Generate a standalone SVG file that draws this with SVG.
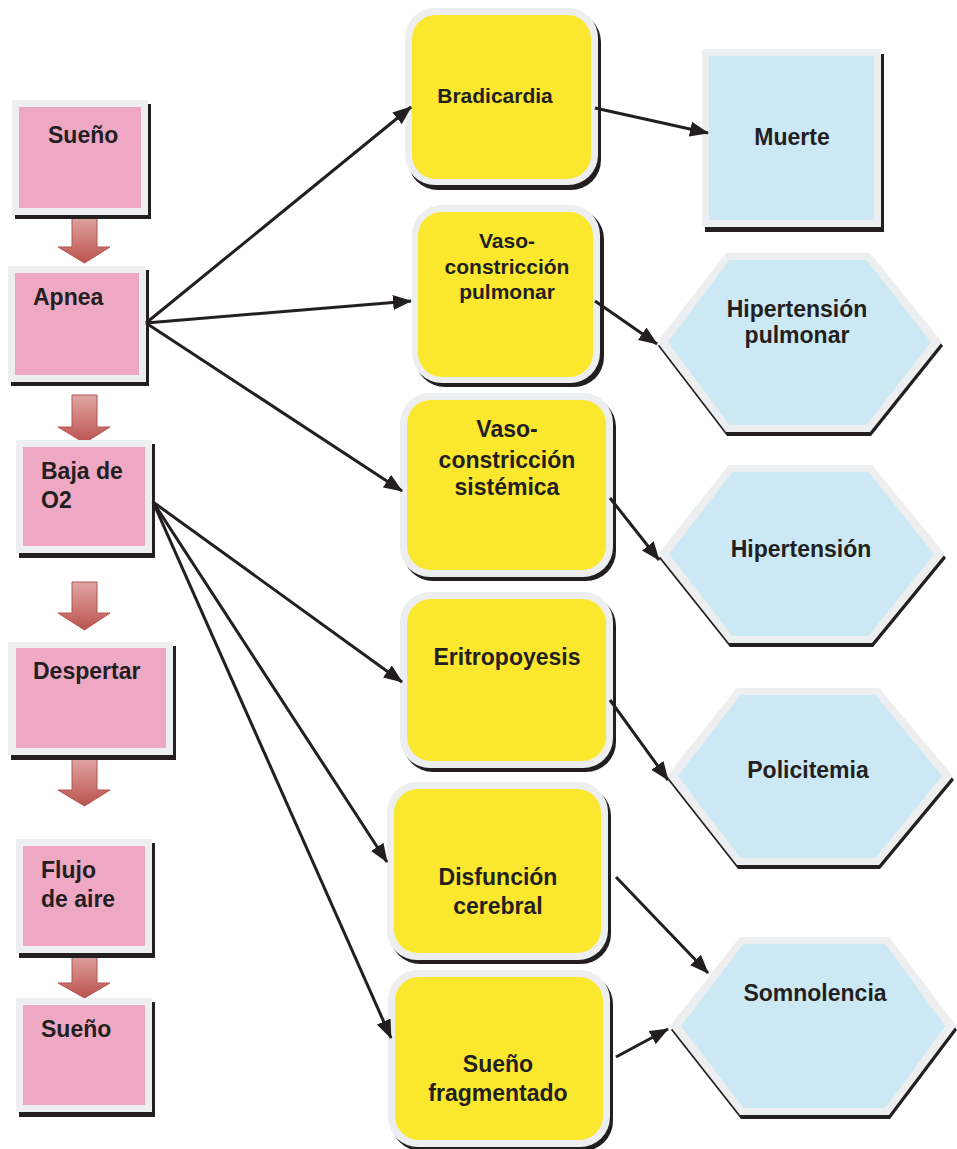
<svg xmlns="http://www.w3.org/2000/svg" width="957" height="1149" viewBox="0 0 957 1149">
<defs>
<style>
.sh{fill:#231f20}
.bd{fill:#edeef0}
.pk{fill:#efa8c4}
.yl{fill:#fbe72d}
.bl{fill:#cce8f4}
.t{font-family:"Liberation Sans",Arial,sans-serif;font-weight:bold;fill:#231f20;font-size:23px}
.c{text-anchor:middle}
.ln{stroke:#231f20;stroke-width:3;fill:none;marker-end:url(#ah)}
.da{fill:url(#dg);stroke:#b4554f;stroke-width:1}
</style>
<linearGradient id="dg" x1="0" y1="0" x2="0" y2="1">
<stop offset="0" stop-color="#dfa6a4"/>
<stop offset="0.6" stop-color="#cb7471"/>
<stop offset="1" stop-color="#b8524e"/>
</linearGradient>
<marker id="ah" markerUnits="userSpaceOnUse" markerWidth="19" markerHeight="15" refX="18" refY="7.5" orient="auto">
<path d="M0,0 L19,7.5 L0,15 Z" fill="#231f20"/>
</marker>
</defs>

<g id="down-arrows">
<polygon class="da" points="72,215 97,215 97,247 110,247 84.5,263 58,247 72,247"/>
<polygon class="da" points="72,395 97,395 97,427 110,427 84.5,443 58,427 72,427"/>
<polygon class="da" points="72,582 97,582 97,613 110,613 84.5,630 58,613 72,613"/>
<polygon class="da" points="72,758 97,758 97,790 110,790 84.5,806 58,790 72,790"/>
<polygon class="da" points="72,952 97,952 97,983 110,983 84.5,998 58,983 72,983"/>
</g>

<g id="n-sueno1">
<rect class="sh" x="15" y="104" width="136" height="115"/>
<rect class="bd" x="12" y="100" width="136" height="115"/>
<rect class="pk" x="19" y="107" width="122" height="101"/>
<text class="t" x="48" y="143">Sueño</text>
</g>
<g id="n-apnea">
<rect class="sh" x="11" y="270" width="138" height="116"/>
<rect class="bd" x="8" y="266" width="138" height="116"/>
<rect class="pk" x="15" y="273" width="124" height="102"/>
<text class="t" x="33" y="305">Apnea</text>
</g>
<g id="n-baja">
<rect class="sh" x="19" y="444" width="136" height="114"/>
<rect class="bd" x="16" y="440" width="136" height="113"/>
<rect class="pk" x="23" y="447" width="122" height="99"/>
<text class="t" x="41" y="479">Baja de</text>
<text class="t" x="41" y="508">O2</text>
</g>
<g id="n-despertar">
<rect class="sh" x="11" y="646" width="165" height="114"/>
<rect class="bd" x="8" y="642" width="165" height="113"/>
<rect class="pk" x="16" y="648" width="150" height="100"/>
<text class="t" x="33" y="679">Despertar</text>
</g>
<g id="n-flujo">
<rect class="sh" x="19" y="843" width="136" height="115"/>
<rect class="bd" x="16" y="839" width="136" height="114"/>
<rect class="pk" x="23" y="846" width="122" height="100"/>
<text class="t" x="41" y="878">Flujo</text>
<text class="t" x="41" y="907">de aire</text>
</g>
<g id="n-sueno2">
<rect class="sh" x="19" y="1002" width="136" height="115"/>
<rect class="bd" x="16" y="998" width="136" height="114"/>
<rect class="pk" x="23" y="1005" width="122" height="100"/>
<text class="t" x="41" y="1037">Sueño</text>
</g>

<g id="n-bradicardia">
<rect class="sh" x="408" y="12" width="193" height="178" rx="30"/>
<rect class="bd" x="405" y="8" width="193" height="177" rx="30"/>
<rect class="yl" x="412" y="15" width="179" height="164" rx="24"/>
<text class="t c" x="495" y="103" style="font-size:21px">Bradicardia</text>
</g>
<g id="n-vasopulmonar">
<rect class="sh" x="415" y="209" width="189" height="178" rx="30"/>
<rect class="bd" x="412" y="205" width="188" height="178" rx="30"/>
<rect class="yl" x="418" y="212" width="175" height="165" rx="24"/>
<text class="t c" x="507" y="248" style="font-size:21px">Vaso-</text>
<text class="t c" x="507" y="274" style="font-size:21px">constricción</text>
<text class="t c" x="507" y="299" style="font-size:21px">pulmonar</text>
</g>
<g id="n-vasosistemica">
<rect class="sh" x="403" y="397" width="213" height="184" rx="30"/>
<rect class="bd" x="400" y="393" width="213" height="184" rx="30"/>
<rect class="yl" x="407" y="400" width="199" height="170" rx="24"/>
<text class="t c" x="507" y="437">Vaso-</text>
<text class="t c" x="507" y="468">constricción</text>
<text class="t c" x="507" y="495">sistémica</text>
</g>
<g id="n-eritropoyesis">
<rect class="sh" x="403" y="596" width="213" height="176" rx="30"/>
<rect class="bd" x="400" y="592" width="213" height="176" rx="30"/>
<rect class="yl" x="407" y="599" width="199" height="162" rx="24"/>
<text class="t c" x="507" y="665">Eritropoyesis</text>
</g>
<g id="n-disfuncion">
<rect class="sh" x="390" y="786" width="221" height="178" rx="30"/>
<rect class="bd" x="387" y="782" width="221" height="178" rx="30"/>
<rect class="yl" x="394" y="789" width="207" height="164" rx="24"/>
<text class="t c" x="498" y="885">Disfunción</text>
<text class="t c" x="498" y="914">cerebral</text>
</g>
<g id="n-suenofrag">
<rect class="sh" x="391" y="974" width="222" height="177" rx="30"/>
<rect class="bd" x="388" y="970" width="222" height="177" rx="30"/>
<rect class="yl" x="395" y="977" width="208" height="163" rx="24"/>
<text class="t c" x="498" y="1072">Sueño</text>
<text class="t c" x="498" y="1101">fragmentado</text>
</g>

<g id="n-muerte">
<rect class="sh" x="705" y="54" width="179" height="178"/>
<rect class="bd" x="702" y="49" width="179" height="178"/>
<rect class="bl" x="709" y="56" width="165" height="164"/>
<text class="t c" x="792" y="145">Muerte</text>
</g>
<g id="n-hippulmonar">
<polygon class="sh" points="658,346 727,257 871,257 943,346 871,436 727,436"/>
<polygon class="bd" points="657,342 726,253 870,253 942,342 870,432 726,432"/>
<polygon class="bl" points="668,342 729.5,260 866.5,260 931,342 866.5,425 729.5,425"/>
<text class="t c" x="797" y="317">Hipertensión</text>
<text class="t c" x="797" y="343">pulmonar</text>
</g>
<g id="n-hipertension">
<polygon class="sh" points="659,558 730,469 873,469 946,558 873,647 730,647"/>
<polygon class="bd" points="658,554 729,465 872,465 945,554 872,643 729,643"/>
<polygon class="bl" points="669,554 732.5,472 868.5,472 934,554 868.5,636 732.5,636"/>
<text class="t c" x="801" y="557">Hipertensión</text>
</g>
<g id="n-policitemia">
<polygon class="sh" points="668,780 738,692 880,692 954,780 880,869 738,869"/>
<polygon class="bd" points="667,776 737,688 879,688 953,776 879,865 737,865"/>
<polygon class="bl" points="678,776 740.5,695 875.5,695 942,776 875.5,858 740.5,858"/>
<text class="t c" x="808" y="778">Policitemia</text>
</g>
<g id="n-somnolencia">
<polygon class="sh" points="671,1030 741,941 890,941 957,1030 890,1119 741,1119"/>
<polygon class="bd" points="670,1026 740,937 889,937 956,1026 889,1115 740,1115"/>
<polygon class="bl" points="681,1026 743.5,944 885.5,944 945,1026 885.5,1108 743.5,1108"/>
<text class="t c" x="815" y="1001">Somnolencia</text>
</g>

<g id="connectors">
<line class="ln" x1="146" y1="323" x2="411" y2="107"/>
<line class="ln" x1="146" y1="323" x2="411" y2="301"/>
<line class="ln" x1="146" y1="323" x2="402" y2="491"/>
<line class="ln" x1="153" y1="502" x2="402" y2="682"/>
<line class="ln" x1="153" y1="502" x2="387" y2="862"/>
<line class="ln" x1="153" y1="502" x2="391" y2="1038"/>
<line class="ln" x1="595" y1="108" x2="708" y2="133"/>
<line class="ln" x1="595" y1="301" x2="657" y2="344"/>
<line class="ln" x1="610" y1="498" x2="659" y2="560"/>
<line class="ln" x1="610" y1="700" x2="668" y2="780"/>
<line class="ln" x1="616" y1="877" x2="708" y2="973"/>
<line class="ln" x1="616" y1="1057" x2="668" y2="1029"/>
</g>
</svg>
